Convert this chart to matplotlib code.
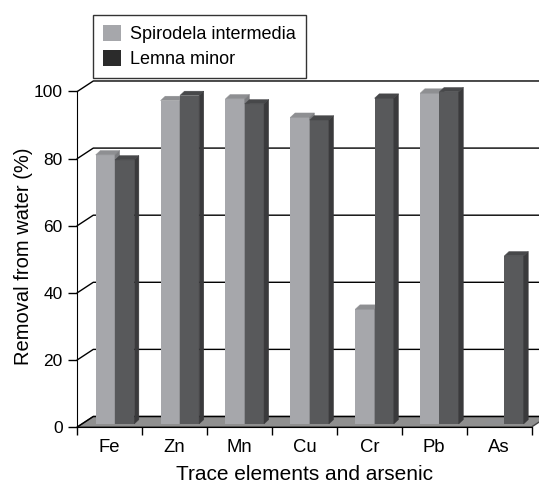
import matplotlib.pyplot as plt
from matplotlib.patches import Polygon, Patch
import numpy as np

elements = ["Fe", "Zn", "Mn", "Cu", "Cr", "Pb", "As"]
spirodela = [80.2, 96.4, 96.9, 91.4, 34.2, 98.6, 0.0]
lemna = [78.7, 97.9, 95.4, 90.6, 97.1, 99.0, 50.1]
yticks = [0, 20, 40, 60, 80, 100]

plt.rcParams['font.family'] = ['Liberation Sans', 'DejaVu Sans']

fig = plt.figure(figsize=(5.39, 4.84), dpi=100)
ax = fig.add_axes([0.1434, 0.1178, 0.8566, 0.7209])
n = len(elements)
ax.set_xlim(0, 7.114)
ax.set_ylim(0, 104)

# pseudo-3D offsets (category units, percent units)
wall_dx, wall_dy = 0.2465, 3.13
bar_dx, bar_dy = 0.072, 1.3
base = 0.9
width = 0.297
x = np.arange(n)

# floor
floor = Polygon([(0, 0), (n, 0), (n + wall_dx, wall_dy), (wall_dx, wall_dy)],
                facecolor='#8f8f8f', edgecolor='#444444', lw=1, zorder=1,
                clip_on=False)
ax.add_patch(floor)

# back wall gridlines with their left-side diagonals
for v in yticks:
    ax.plot([0, wall_dx, n + wall_dx], [v, v + wall_dy, v + wall_dy],
            color='black', lw=1.0, zorder=2, clip_on=False)


def draw_bar(left, h, front, top, side):
    ax.bar(left, h, width=width, bottom=base, align='edge', color=front,
           zorder=3)
    y1 = base + h
    r = left + width
    ax.add_patch(Polygon([(left, y1), (r, y1), (r + bar_dx, y1 + bar_dy),
                          (left + bar_dx, y1 + bar_dy)],
                         facecolor=top, edgecolor=top, lw=0.3, zorder=3))
    ax.add_patch(Polygon([(r, base), (r, y1), (r + bar_dx, y1 + bar_dy),
                          (r + bar_dx, base + bar_dy)],
                         facecolor=side, edgecolor=side, lw=0.3, zorder=3))


for i in range(n):
    draw_bar(x[i] + 0.283, spirodela[i], '#a6a7ab', '#8e8f92', '#7c7d80')
    draw_bar(x[i] + 0.283 + width, lemna[i], '#58595b', '#47484a', '#3a3a3c')

# axes styling
for s in ['top', 'right']:
    ax.spines[s].set_visible(False)
ax.spines['left'].set_bounds(0, 100)
ax.spines['bottom'].set_bounds(0, n)
ax.spines['left'].set_zorder(4)
ax.spines['bottom'].set_zorder(4)

ax.set_yticks(yticks)
ax.tick_params(axis='y', direction='out', length=6.5, width=1, labelsize=12.5,
               pad=4)
ax.set_xticks(np.arange(n + 1))
ax.set_xticklabels([])
ax.set_xticks(x + 0.5, minor=True)
ax.set_xticklabels(elements, minor=True)
ax.tick_params(axis='x', which='major', direction='out', length=5.5, width=1)
ax.tick_params(axis='x', which='minor', length=0, labelsize=13.3, pad=9)

ax.set_ylabel('Removal from water (%)', fontsize=14.5)
ax.yaxis.set_label_coords(-0.096, 0.49)
ax.set_xlabel('Trace elements and arsenic', fontsize=15)
ax.xaxis.set_label_coords(0.492, -0.109)

handles = [Patch(facecolor='#a6a7ab', label='Spirodela intermedia'),
           Patch(facecolor='#2b2b2b', label='Lemna minor')]
leg = ax.legend(handles=handles, loc='upper left',
                bbox_to_anchor=(93.3 / 539, 1 - 15 / 484),
                bbox_transform=fig.transFigure, fontsize=13, frameon=True,
                fancybox=False, borderaxespad=0, borderpad=0.55,
                handlelength=1.0, handleheight=1.0, handletextpad=0.5,
                labelspacing=0.39)
leg.get_frame().set_edgecolor('black')
leg.get_frame().set_linewidth(1)

fig.savefig('out.png', dpi=100)
